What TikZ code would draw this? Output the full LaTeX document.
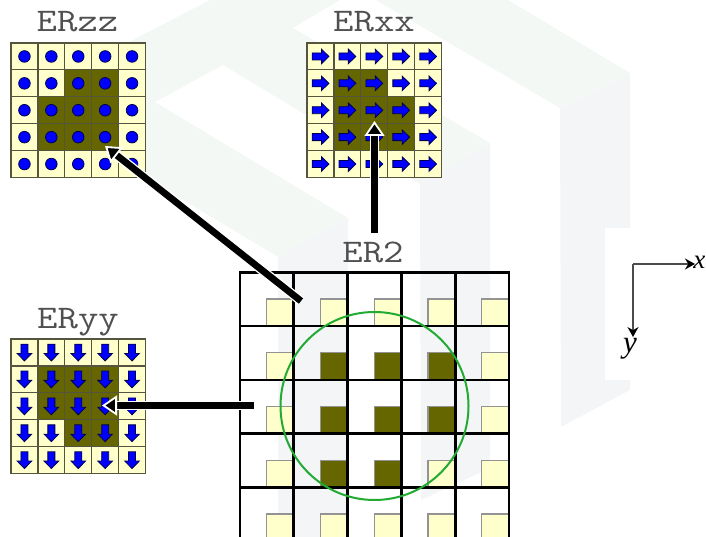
\documentclass[tikz,border=0pt]{standalone}
\usepackage{fontspec}
\usepackage{graphicx}
\usetikzlibrary{arrows.meta}
\newfontfamily\axisfont{Liberation Serif}
\definecolor{wmgreen}{HTML}{F3F8F5}
\definecolor{wmgrey}{HTML}{F3F5F7}
\definecolor{cellyellow}{HTML}{FFFFCC}
\definecolor{celldark}{HTML}{666600}
\definecolor{celledge}{HTML}{55553F}
\definecolor{circgreen}{HTML}{22AA33}
\definecolor{titlegrey}{HTML}{505050}
\tikzset{
  cellbox/.style={draw=celledge,line width=1.2pt,fill=cellyellow,minimum size=26.9pt,inner sep=0pt,outer sep=0pt},
  darkbox/.style={cellbox,fill=celldark},
  bigcell/.style={draw=black,line width=2.7pt,minimum size=53.8pt,inner sep=0pt,outer sep=0pt},
  swatch/.style={draw=gray!85,line width=1.3pt,minimum size=27.5pt,inner sep=0pt,outer sep=0pt},
  gridtitle/.style={font=\fontsize{33}{33}\selectfont\ttfamily,text=titlegrey,anchor=base,inner sep=0pt},
  axislabel/.style={font=\fontsize{#1}{#1}\selectfont\axisfont\itshape,inner sep=0pt},
  axisline/.style={draw=black!70,line width=1.3pt,-{Stealth[length=10pt,width=11pt,color=black]}},
  halo/.style={draw=white,line width=9.5pt,shorten >=10pt},
  fatarrow/.style={draw=black,line width=6.8pt,-{Triangle[length=15pt,width=20pt,fill=black,color=white,line width=1.8pt]}},
  dotmark/.pic={\path[fill=blue,draw=black!70!blue,line width=0.8pt] (0,0) circle[radius=5.8];},
  arrowmark/.pic={\path[fill=blue,draw=black!70!blue,line width=0.8pt]
     (-8.3,-3.5)--(1,-3.5)--(1,-7.3)--(8.5,0)--(1,7.3)--(1,3.5)--(-8.3,3.5)--cycle;},
}
% #1 name, #2 left, #3 top, #4 dark cells r/c, #5 pic options, #6 pic name
\newcommand{\smallgrid}[6]{%
  \foreach \rr in {1,...,5}{\foreach \cc in {1,...,5}{
    \node[cellbox] (#1-\rr-\cc) at ({#2+(\cc-0.5)*26.9},{#3+(\rr-0.5)*26.9}) {};
  }}
  \foreach \rr/\cc in {#4}{
    \node[darkbox] (#1-d-\rr-\cc) at (#1-\rr-\cc) {};
  }
  \foreach \rr in {1,...,5}{\foreach \cc in {1,...,5}{
    \path (#1-\rr-\cc) pic[#5] {#6};
  }}
}
\begin{document}
\begin{tikzpicture}[x=1pt,y=-1pt]
\useasboundingbox (0,0) rectangle (706,537);
\clip (0,0) rectangle (706,537);
% watermark
\fill[wmgreen] (210,0)--(340,0)--(293,28)--(490,143)--(420,184)--(223,65)--(155,102)--(348,218)--(278,257)--(100,150)--(100,57)--cycle;
\fill[wmgreen] (508,0)--(630,73)--(560,108)--(376,0)--cycle;
\fill[wmgrey] (560,108)--(630,73)--(630,390)--(561,427)--cycle;
\fill[wmgrey] (420,184)--(490,143)--(490,468)--(421,500)--cycle;
\fill[wmgrey] (278,257)--(348,218)--(348,537)--(278,537)--cycle;
\fill[white] (605,228) rectangle (706,380);
% small grids
\smallgrid{zz}{11}{43}{2/3,2/4,3/2,3/3,3/4,4/2,4/3,4/4}{}{dotmark}
\smallgrid{xx}{307}{43}{2/2,2/3,3/2,3/3,3/4,4/2,4/3,4/4}{}{arrowmark}
\smallgrid{yy}{11}{339}{2/2,2/3,2/4,3/2,3/3,3/4,4/3,4/4}{rotate=-90}{arrowmark}
% titles
\node[gridtitle] (tzz) at (77.5,32) {\scalebox{1.2}[1]{ERzz}};
\node[gridtitle] (txx) at (374,32) {\scalebox{1.2}[1]{ERxx}};
\node[gridtitle] (tyy) at (78,328) {\scalebox{1.2}[1]{ERyy}};
\node[gridtitle] (ter) at (373,262) {\scalebox{1.2}[1]{ER2}};
% ER2 swatches
\foreach \rr in {1,...,5}{\foreach \cc in {1,...,5}{
  \node[swatch,fill=cellyellow] (s-\rr-\cc) at ({240+\cc*53.8-13.5},{272.3+\rr*53.8-13.5}) {};
}}
\foreach \rr/\cc in {2/2,2/3,2/4,3/2,3/3,3/4,4/2,4/3}{
  \node[swatch,fill=celldark] (sd-\rr-\cc) at (s-\rr-\cc) {};
}
\foreach \rr in {1,...,5}{\foreach \cc in {1,...,5}{
  \node[bigcell] (b-\rr-\cc) at ({240+(\cc-0.5)*53.8},{272.3+(\rr-0.5)*53.8}) {};
}}
% circle
\node[draw=circgreen,line width=2pt,circle,minimum size=188pt,inner sep=0pt] (ring) at (374.5,406) {};
% fat arrows
\coordinate (azs) at (301,301);
\coordinate (azt) at (105,146);
\coordinate (axs) at (374.5,233);
\coordinate (axt) at (374.5,121);
\coordinate (ays) at (253.5,405.5);
\coordinate (ayt) at (102,405.5);
\foreach \s/\t in {azs/azt,axs/axt,ays/ayt}{
  \draw[halo] (\s) -- (\t);
  \draw[fatarrow] (\s) -- (\t);
}
% axes
\coordinate (ao) at (633,264);
\coordinate (ax) at (695,264);
\coordinate (ay) at (633,337);
\draw[axisline] (ao) -- (ax);
\draw[axisline] (ao) -- (ay);
\node[axislabel=27,anchor=east] (lx) at (705.5,262) {x};
\node[axislabel=31] (ly) at (630,349) {y};
\end{tikzpicture}
\end{document}
